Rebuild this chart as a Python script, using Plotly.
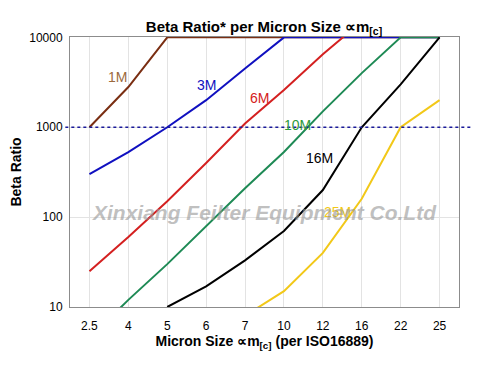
import plotly.graph_objects as go

sizes = ["2.5", "4", "5", "6", "7", "10", "12", "16", "22", "25"]

beta_1m = [1000, 2800, 10000, 10000, 10000, 10000, 10000, 10000, 10000, 10000]
beta_3m = [300, 530, 1000, 2000, 4500, 10000, 10000, 10000, 10000, 10000]
beta_6m = [25, 60, 150, 400, 1100, 2600, 6500, 15000, None, None]
beta_10m = [4.5, 12, 30, 80, 210, 530, 1500, 4000, 10000, 10000]
beta_16m = [None, None, 10, 17, 33, 70, 200, 1000, 3000, 10000]
beta_25m = [None, None, None, None, 8, 15, 40, 160, 1000, 2000]

series = [
    ("1M", beta_1m, "#7A2E12", "#9C6A3C", 0.72, 3.56),
    ("3M", beta_3m, "#1010C0", "#1010C0", 3.0, 3.47),
    ("6M", beta_6m, "#D42020", "#D42020", 4.37, 3.33),
    ("10M", beta_10m, "#1E8A55", "#2E9A3A", 5.35, 3.03),
    ("16M", beta_16m, "#000000", "#000000", 5.91, 2.66),
    ("25M", beta_25m, "#F2C818", "#F2C818", 6.38, 2.06),
]

fig = go.Figure()
for name, vals, lc, tc, lx, ly in series:
    fig.add_trace(go.Scatter(x=sizes, y=vals, mode="lines", name=name,
                             line=dict(color=lc, width=2), connectgaps=False,
                             showlegend=False))
    fig.add_annotation(x=lx, y=ly, xref="x", yref="y", text=name, showarrow=False,
                       font=dict(family="Arial", size=14, color=tc))

fig.add_shape(type="line", xref="paper", yref="y", x0=-0.012, x1=1.03, y0=1000, y1=1000,
              line=dict(color="#1A1A9A", width=1.5, dash="dot"))

fig.add_annotation(x=0.50, y=0.35, xref="paper", yref="paper",
                   text="<b><i>Xinxiang Feilter Equipment Co.Ltd</i></b>", showarrow=False,
                   font=dict(family="Arial", size=21, color="rgba(150,150,150,0.6)"))

fig.update_layout(
    width=500, height=368,
    margin=dict(l=62, r=49, t=29, b=69, autoexpand=False),
    paper_bgcolor="white", plot_bgcolor="white",
    font=dict(family="Arial", color="black"),
    title=dict(text="<b>Beta Ratio* per Micron Size ∝m<sub>[c]</sub></b>", x=0.512, xanchor="center",
               y=0.95, yanchor="middle", font=dict(size=15, family="Arial", color="black")),
)
fig.update_xaxes(type="category", range=[-0.5, 9.5], showgrid=True, gridcolor="#E3E3E3",
                 showline=True, linecolor="#8C8C8C", linewidth=1, mirror=True,
                 ticks="", ticklabelstandoff=8, tickfont=dict(size=12, color="black"),
                 automargin=False,
                 title=dict(text="<b>Micron Size ∝m<sub>[c]</sub> (per ISO16889)</b>",
                            font=dict(size=14, color="black"), standoff=3))
fig.update_yaxes(type="log", range=[1, 4.004], showgrid=True, gridcolor="#E3E3E3",
                 showline=True, linecolor="#8C8C8C", linewidth=1, mirror=True,
                 tickvals=[10, 100, 1000, 10000], ticktext=["10", "100", "1000", "10000"],
                 ticks="", ticklabelstandoff=4, tickfont=dict(size=12, color="black"), zeroline=False,
                 automargin=False,
                 title=dict(text="<b>Beta Ratio</b>", font=dict(size=14, color="black"), standoff=4))

fig.write_html("out.html")
